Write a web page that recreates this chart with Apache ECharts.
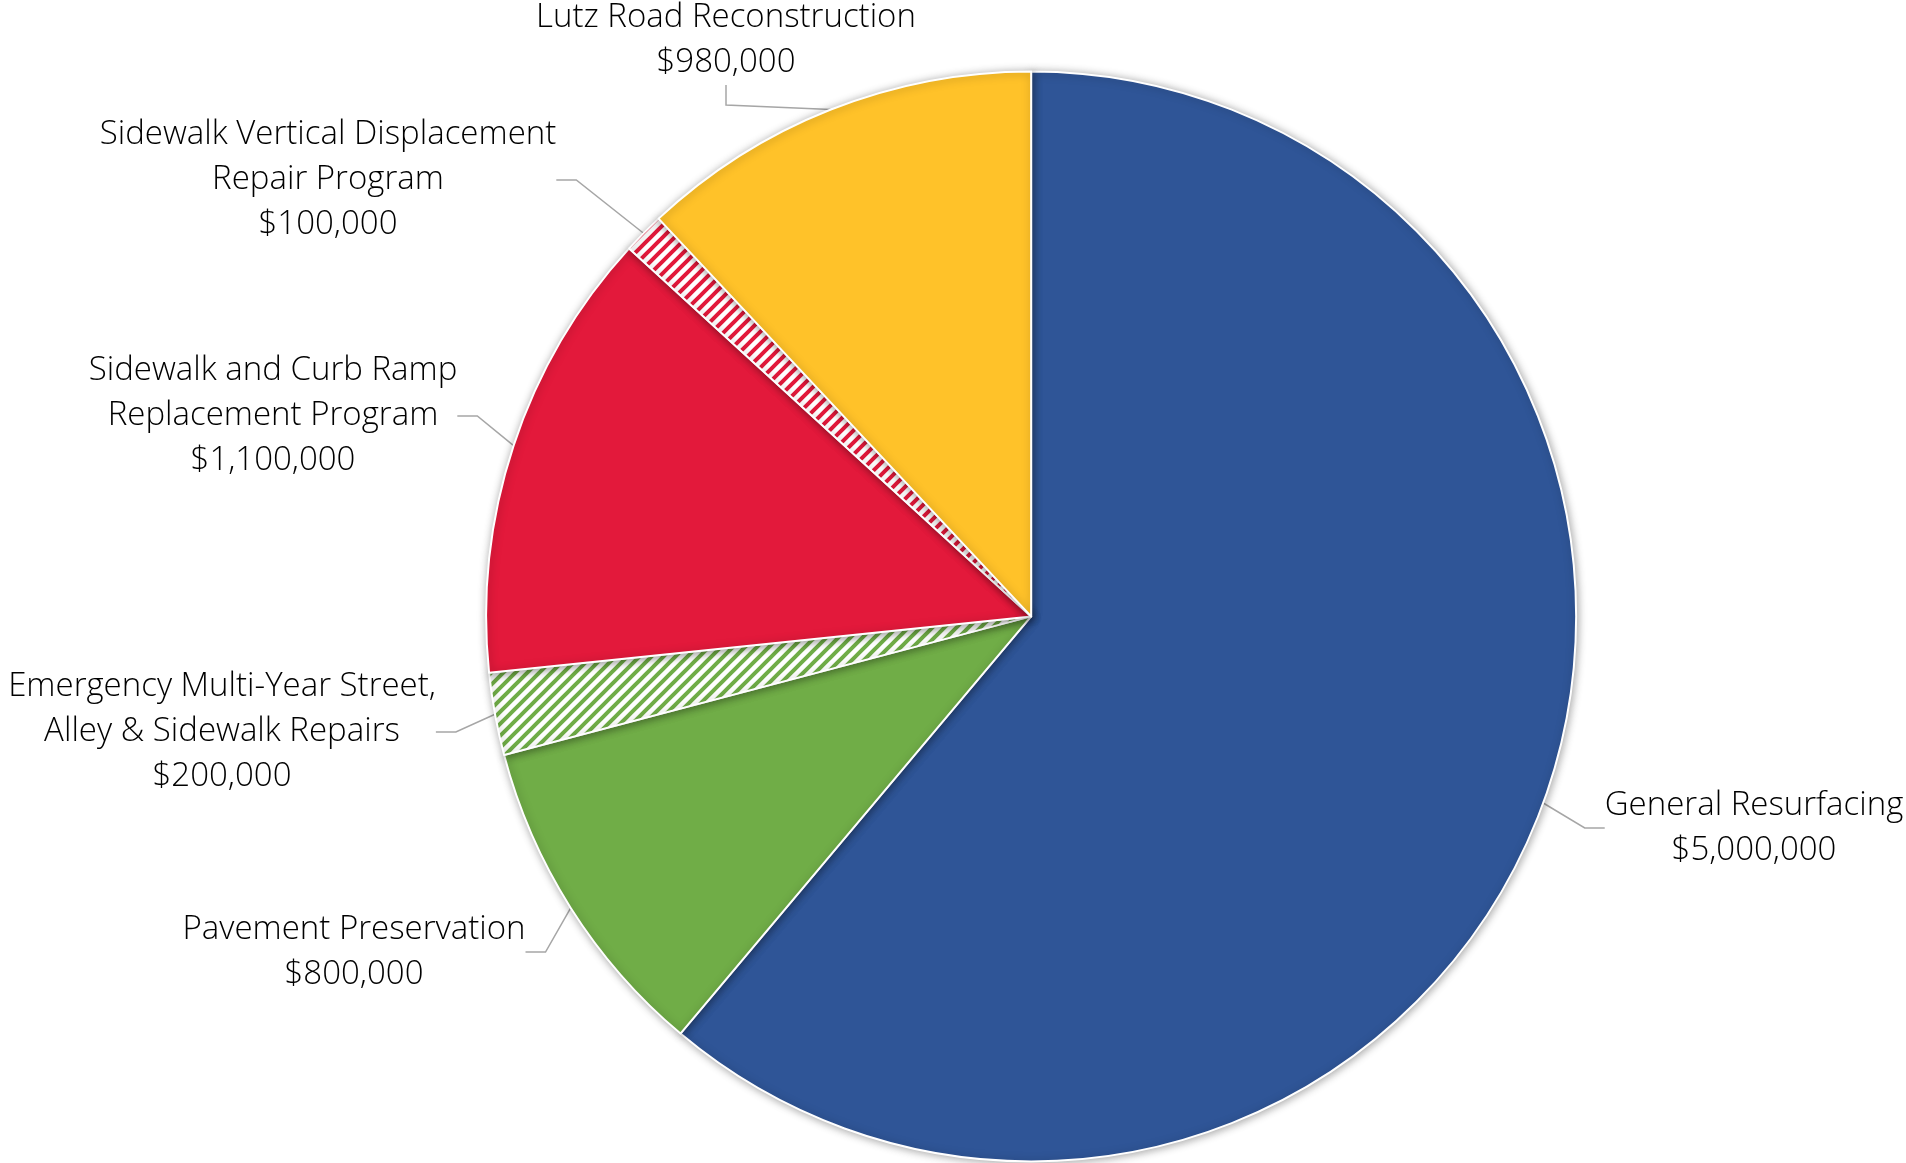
<!DOCTYPE html>
<html>
<head>
<meta charset="utf-8">
<script src="https://cdn.jsdelivr.net/npm/echarts@6/dist/echarts.min.js"></script>
<style>
html,body{margin:0;padding:0;background:#fff;}
#chart{width:1906px;height:1163px;}
</style>
</head>
<body>
<div id="chart"></div>
<script>
// ---- data ----
var categories = [
  'General Resurfacing',
  'Pavement Preservation',
  'Emergency Multi-Year Street,\nAlley & Sidewalk Repairs',
  'Sidewalk and Curb Ramp\nReplacement Program',
  'Sidewalk Vertical Displacement\nRepair Program',
  'Lutz Road Reconstruction'
];
var values = [5000000, 800000, 200000, 1100000, 100000, 980000];

// ---- styling / layout (not data) ----
var baseColors = ['#2F5597', '#70AD47', '#70AD47', '#E3193B', '#E3193B', '#FFC229'];
var hatched = [false, false, true, false, true, false];
var labelCenters = [[1754, 828], [354, 952], [222, 732], [273, 416], [328, 180], [726, 40]];

function hatch(color, period, width) {
  var c = document.createElement('canvas');
  c.width = period; c.height = period;
  var g = c.getContext('2d');
  g.fillStyle = '#fff';
  g.fillRect(0, 0, period, period);
  g.strokeStyle = color;
  g.lineWidth = width;
  g.beginPath();
  g.moveTo(-period, period * 2); g.lineTo(period * 2, -period);
  g.moveTo(-period, period); g.lineTo(period, -period);
  g.moveTo(0, period * 2); g.lineTo(period * 2, 0);
  g.stroke();
  return c;
}

function fmt(v) { return '$' + v.toLocaleString('en-US'); }

var seriesData = categories.map(function (name, i) {
  var color = hatched[i]
    ? { image: hatch(baseColors[i], 12, 4), repeat: 'repeat' }
    : baseColors[i];
  return { name: name, value: values[i], itemStyle: { color: color } };
});

var chart = echarts.init(document.getElementById('chart'), null, { renderer: 'canvas' });
chart.setOption({
  backgroundColor: '#ffffff',
  animation: false,
  series: [{
    type: 'pie',
    center: ['54.1%', '53%'],
    radius: [0, 545],
    startAngle: 90,
    clockwise: true,
    data: seriesData,
    itemStyle: {
      borderColor: '#ffffff',
      borderWidth: 2,
      shadowBlur: 8,
      shadowColor: 'rgba(0,0,0,0.35)',
      shadowOffsetX: 1,
      shadowOffsetY: 1
    },
    label: {
      show: true,
      position: 'outside',
      formatter: function (p) { return p.name + '\n' + fmt(p.value); },
      color: '#000',
      fontFamily: '"Open Sans", sans-serif',
      fontWeight: 300,
      fontSize: 33,
      lineHeight: 45,
      align: 'center'
    },
    labelLine: {
      show: true,
      length: 20,
      length2: 20,
      lineStyle: { color: '#A6A6A6', width: 1.5 }
    },
    labelLayout: function (p) {
      var c = labelCenters[p.dataIndex];
      return { x: c[0], y: c[1], align: 'center', verticalAlign: 'middle' };
    }
  }]
});
</script>
</body>
</html>
